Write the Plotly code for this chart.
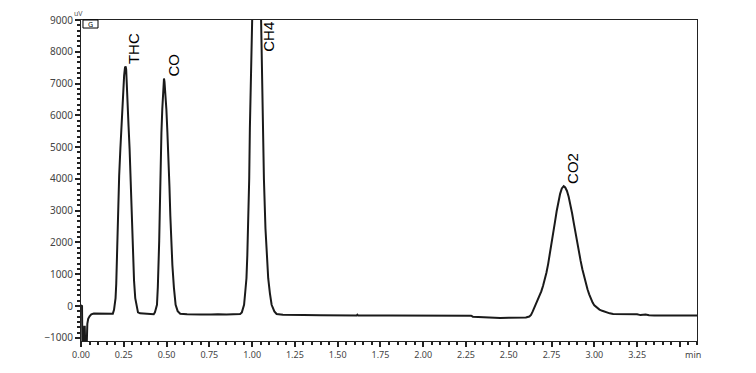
import plotly.graph_objects as go

# ---- data ----
time_min = [
    # start-up disturbance and baseline
    0.000, 0.006, 0.008, 0.016, 0.019, 0.022, 0.025, 0.033, 0.037, 0.042,
    0.050, 0.060, 0.075, 0.100, 0.130, 0.160, 0.180,
    # THC
    0.186, 0.193, 0.198, 0.202, 0.206, 0.210, 0.213, 0.217, 0.223, 0.230,
    0.238, 0.245, 0.252, 0.257, 0.261, 0.264, 0.268, 0.272, 0.278, 0.284,
    0.289, 0.294, 0.299, 0.303, 0.310, 0.317, 0.325, 0.333, 0.345, 0.380,
    0.410, 0.425,
    # CO
    0.432, 0.438, 0.444, 0.449, 0.454, 0.457, 0.460, 0.465, 0.470, 0.475,
    0.479, 0.482, 0.485, 0.488, 0.492, 0.499, 0.505, 0.512, 0.517, 0.522,
    0.528, 0.534, 0.543, 0.553, 0.565, 0.580, 0.620, 0.680, 0.700, 0.760,
    0.800, 0.850, 0.900, 0.930,
    # CH4
    0.940, 0.948, 0.953, 0.960, 0.967, 0.972, 0.977, 0.983, 0.987, 0.997,
    1.008, 1.024, 1.040, 1.051, 1.062, 1.069, 1.078, 1.086, 1.094, 1.104,
    1.114, 1.130, 1.143, 1.180, 1.220,
    # long baseline
    1.300, 1.400, 1.500, 1.610, 1.615, 1.620, 1.800, 2.000, 2.200, 2.280,
    2.290, 2.350, 2.400, 2.450, 2.500, 2.550, 2.600, 2.620,
    # CO2
    2.630, 2.640, 2.650, 2.660, 2.670, 2.680, 2.690, 2.700, 2.710, 2.720,
    2.730, 2.740, 2.750, 2.760, 2.770, 2.780, 2.790, 2.800, 2.810, 2.821,
    2.830, 2.840, 2.850, 2.860, 2.870, 2.880, 2.890, 2.900, 2.910, 2.920,
    2.930, 2.940, 2.950, 2.960, 2.970, 2.980, 2.990, 3.000, 3.015, 3.030,
    3.046, 3.070, 3.090, 3.110,
    # tail baseline
    3.250, 3.270, 3.300, 3.320, 3.350, 3.500, 3.600,
]
signal_uv = [
    0, 20, -1300, -1300, -650, -650, -1300, -1300, -560, -400,
    -320, -260, -235, -240, -250, -250, -255,
    -240, -120, 50, 250, 700, 1500, 2400, 3300, 4100, 4940,
    5850, 6710, 7250, 7500, 7540, 7450, 7050, 6400, 5650, 4940,
    4100, 3280, 2400, 1500, 800, 250, -60, -200, -230, -250,
    -260, -260,
    -200, -100, 40, 600, 1290, 2050, 2850, 4625, 5450, 6190,
    6750, 7050, 7160, 7050, 6750, 6190, 5450, 4625, 3750, 2850,
    2000, 1290, 580, 40, -160, -240, -260, -250, -270, -265,
    -255, -270, -270, -250,
    -200, -80, 40, 450, 875, 1600, 2440, 4000, 5625, 9000,
    12800, 15000, 12800, 9000, 5625, 4000, 2440, 1600, 875, 400,
    40, -170, -250, -275, -270,
    -280, -290, -295, -300, -270, -300, -300, -300, -300, -305,
    -335, -350, -370, -375, -370, -375, -360, -330,
    -280, -170, -40, 60, 160, 300, 460, 630, 820, 1050,
    1320, 1620, 1950, 2300, 2650, 2990, 3290, 3530, 3700, 3770,
    3730, 3620, 3440, 3200, 2920, 2610, 2290, 1990, 1700, 1420,
    1160, 920, 710, 530, 370, 230, 110, 20, -60, -110,
    -150, -200, -230, -250,
    -260, -285, -270, -290, -300, -300, -300,
]

peak_names = ["THC", "CO", "CH4", "CO2"]
peak_times = [0.261, 0.485, 1.024, 2.821]
peak_heights = [7540, 7160, 15000, 3770]

x_tick_values = [0, 0.25, 0.5, 0.75, 1.0, 1.25, 1.5, 1.75, 2.0, 2.25, 2.5, 2.75, 3.0, 3.25, 3.5]
x_tick_labels = ["0.00", "0.25", "0.50", "0.75", "1.00", "1.25", "1.50", "1.75",
                 "2.00", "2.25", "2.50", "2.75", "3.00", "3.25", ""]

# ---- figure ----
X_RANGE = [0, 3.6]
Y_RANGE = [-1100, 9000]

fig = go.Figure()
fig.add_trace(go.Scatter(
    x=time_min, y=signal_uv, mode="lines",
    line=dict(color="#1a1a1a", width=2),
    hoverinfo="skip", showlegend=False,
))

label_xshift = {"THC": -1, "CO": 0, "CH4": 2, "CO2": 0}
for name, t, h in zip(peak_names, peak_times, peak_heights):
    clipped = h >= Y_RANGE[1]
    fig.add_annotation(
        x=t, y=min(h, Y_RANGE[1]), xref="x", yref="y",
        text=name, textangle=-90, showarrow=False,
        xanchor="left", yanchor="top" if clipped else "bottom",
        xshift=label_xshift[name], yshift=-1 if clipped else 1,
        borderpad=0,
        font=dict(family="Liberation Sans, Arial", size=15, color="#000000"),
    )

# "min" unit label at the right end of the time axis
fig.add_annotation(
    x=0.994, y=-0.042, xref="paper", yref="paper", text="min", showarrow=False,
    xanchor="center", yanchor="middle",
    font=dict(family="Noto Sans", size=9, color="#444444"),
)
# "uV" unit label above the signal axis
fig.add_annotation(
    x=-0.004, y=1.0, xref="paper", yref="paper", text="uV", showarrow=False,
    xanchor="center", yanchor="bottom",
    font=dict(family="Noto Sans", size=7, color="#555555"),
)
# small channel box in the top-left corner
fig.add_shape(type="rect", xref="paper", yref="paper",
              x0=0.0032, x1=0.0276, y0=0.975, y1=1.0,
              line=dict(color="#000000", width=1), fillcolor="white")
fig.add_annotation(
    x=0.0154, y=0.9875, xref="paper", yref="paper", text="G", showarrow=False,
    xanchor="center", yanchor="middle",
    font=dict(family="Noto Sans", size=7, color="#000000"),
)

axis_common = dict(
    showgrid=False, zeroline=False, showline=True, mirror=True,
    linecolor="#222222", linewidth=1,
    ticks="outside", ticklen=5, tickwidth=1.5, tickcolor="#222222",
)

fig.update_xaxes(
    range=X_RANGE, tickmode="array", tickvals=x_tick_values, ticktext=x_tick_labels,
    tickfont=dict(family="Noto Sans", size=9, color="#444444"),
    minor=dict(tickmode="linear", tick0=0, dtick=0.05, ticks="outside",
               ticklen=3, tickwidth=1.5, tickcolor="#222222"),
    **axis_common,
)
fig.update_yaxes(
    range=Y_RANGE, tickmode="linear", tick0=0, dtick=1000,
    tickfont=dict(family="Noto Sans", size=10, color="#444444"),
    minor=dict(tickmode="linear", tick0=0, dtick=1000 / 6, ticks="outside",
               ticklen=3, tickwidth=1.5, tickcolor="#222222"),
    **axis_common,
)

fig.update_layout(
    width=756, height=373,
    margin=dict(l=81, r=59, t=20, b=30, pad=0),
    paper_bgcolor="white", plot_bgcolor="white",
    showlegend=False,
)

fig.write_html("out.html")
